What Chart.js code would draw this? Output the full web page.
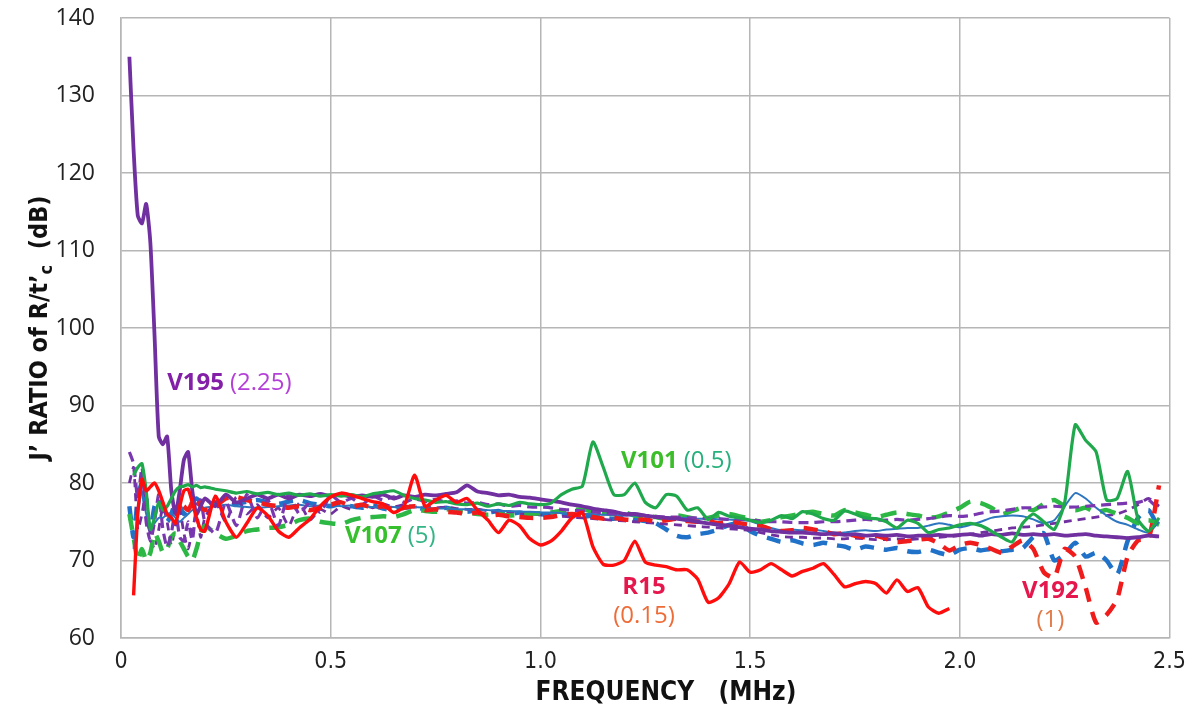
<!DOCTYPE html>
<html>
<head>
<meta charset="utf-8">
<script src="https://cdn.jsdelivr.net/npm/chart.js@4.4.0/dist/chart.umd.min.js"></script>
<style>
html, body { margin: 0; padding: 0; background: #fff; }
#wrap { width: 1196px; height: 713px; }
</style>
</head>
<body>
<div id="wrap"><canvas id="ratioChart" width="1196" height="713"></canvas></div>
<script>
// frequency (MHz): finer steps below 0.2, then every 0.025
const freq = [
    0.02, 0.03, 0.04, 0.05, 0.06, 0.07, 0.08, 0.09, 0.10, 0.11, 0.12, 0.13, 0.14, 0.15, 0.16, 0.17, 0.18, 0.19, 0.20,
    0.225, 0.25, 0.275, 0.3, 0.325, 0.35, 0.375, 0.4, 0.425, 0.45,
    0.475, 0.5, 0.525, 0.55, 0.575, 0.6, 0.625, 0.65, 0.675, 0.7,
    0.725, 0.75, 0.775, 0.8, 0.825, 0.85, 0.875, 0.9, 0.925, 0.95,
    0.975, 1.0, 1.025, 1.05, 1.075, 1.1, 1.125, 1.15, 1.175, 1.2,
    1.225, 1.25, 1.275, 1.3, 1.325, 1.35, 1.375, 1.4, 1.425, 1.45,
    1.475, 1.5, 1.525, 1.55, 1.575, 1.6, 1.625, 1.65, 1.675, 1.7,
    1.725, 1.75, 1.775, 1.8, 1.825, 1.85, 1.875, 1.9, 1.925, 1.95,
    1.975, 2.0, 2.025, 2.05, 2.075, 2.1, 2.125, 2.15, 2.175, 2.2,
    2.225, 2.25, 2.275, 2.3, 2.325, 2.35, 2.375, 2.4, 2.425, 2.45,
    2.475
];

// J' ratio (dB) per sample
const v195 = [
    135, 123, 114.5, 113.5, 116, 111, 99, 86, 85, 86, 79, 76, 79, 83, 84, 79, 76, 77, 78,
    77, 78.5, 77.5, 78, 78.5, 78, 78.5, 78, 78.5, 78.3,
    78.6, 78.3, 78.5, 78.2, 78.4, 78.2, 78.5, 78.0, 78.4, 78.2,
    78.5, 78.4, 78.6, 78.8, 79.7, 78.9, 78.7, 78.4, 78.5, 78.2,
    78.1, 77.9, 77.7, 77.5, 77.2, 77.0, 76.7, 76.5, 76.3, 76.0,
    76.0, 75.8, 75.6, 75.5, 75.4, 75.2, 75.0, 74.8, 74.6, 74.5,
    74.3, 74.1, 74.0, 73.8, 73.7, 73.6, 73.6, 73.5, 73.4, 73.5,
    73.3, 73.4, 73.2, 73.3, 73.2, 73.3, 73.1, 73.2, 73.2, 73.3,
    73.2, 73.3, 73.4, 73.2, 73.4, 73.3, 73.5, 73.3, 73.4, 73.3,
    73.4, 73.2, 73.3, 73.4, 73.2, 73.1, 73.0, 72.9, 73.0, 73.2,
    73.1
];
const v195b = [
    84, 82.5, 78, 82, 75, 72.5, 75, 78.5, 74, 71.7, 73.5, 76.5, 73, 72.5, 75, 72.6, 77, 77.8, 75,
    73.5, 77.5, 74.5, 78.5, 75.5, 77.8, 74.5, 78.6, 76.0, 77.5,
    76.2, 78.4, 77.5, 78.0, 77.2, 78.3, 77.8, 78.2, 77.5, 78.0,
    77.6, 77.9, 77.5, 77.7, 77.4, 77.5, 77.2, 77.3, 77.0, 77.1,
    76.9, 76.9, 76.8, 76.6, 76.5, 76.4, 76.3, 76.1, 76.0, 75.9,
    75.9, 75.8, 75.7, 75.6, 75.6, 75.5, 75.5, 75.4, 75.4, 75.3,
    75.3, 75.2, 75.1, 75.0, 75.0, 74.9, 74.9, 74.9, 75.0, 75.0,
    75.1, 75.2, 75.3, 75.2, 75.2, 75.3, 75.2, 75.3, 75.4, 75.6,
    75.8, 75.7, 75.8, 76.1, 76.3, 76.4, 76.6, 76.8, 76.8, 76.9,
    77.0, 76.9, 76.9, 77.0, 77.1, 77.2, 77.3, 77.4, 77.5, 77.8,
    76.5
];
const v195c = [
    80, 82, 74, 76, 79, 73, 71.5, 74, 77, 75, 72, 74.5, 76.5, 73.5, 71.5, 74, 76, 73, 75.5,
    77.5, 75.0, 78.2, 76.0, 77.2, 75.5, 76.8, 74.5, 77.4, 75.2,
    76.6, 76.0, 77.0, 76.6, 77.2, 76.8, 77.3, 76.9, 77.2, 76.9,
    77.0, 76.8, 76.9, 76.7, 76.6, 76.6, 76.4, 76.3, 76.2, 76.1,
    76.0, 75.9, 75.8, 75.7, 75.6, 75.5, 75.4, 75.3, 75.2, 75.1,
    75.0, 74.9, 74.8, 74.7, 74.6, 74.5, 74.4, 74.3, 74.2, 74.1,
    74.0, 73.9, 73.6, 73.3, 73.1, 73.0, 73.0, 72.9, 72.9, 72.8,
    72.8, 72.9, 72.8, 72.7, 72.7, 72.8, 72.7, 72.8, 72.9, 73.0,
    73.1, 73.2, 73.4, 73.6, 73.8, 74.0, 74.2, 74.3, 74.4, 74.6,
    74.8, 75.0, 75.2, 75.4, 75.6, 75.8, 76.0, 76.5, 77.2, 78.0,
    77.0
];
const v101 = [
    null, 81, 82, 82.5, 79, 74, 75.5, 77.5, 76.5, 77, 78, 79, 79.5, 79.6, 79.8, 79.5, 79.7, 79.4, 79.5,
    79.2, 79.0, 78.7, 78.9, 78.6, 78.8, 78.5, 78.7, 78.4, 78.6,
    78.3, 78.5, 78.3, 78.5, 78.2, 78.6, 78.8, 79.0, 78.4, 78.0,
    77.8, 77.5, 77.6, 77.3, 77.2, 77.4, 77.0, 77.3, 77.1, 77.5,
    77.3, 77.2, 77.4, 78.5, 79.2, 79.6, 85.3, 82.0, 78.5, 78.5,
    80.0, 77.5, 76.8, 78.5, 78.3, 76.5, 76.8, 75.3, 76.2, 75.7,
    75.5, 75.2, 74.9, 75.2, 75.8, 75.4, 76.3, 76.0, 75.4, 75.2,
    76.4, 76.0, 75.5, 75.4, 75.0, 74.2, 75.2, 74.8, 73.6, 74.0,
    74.2, 74.6, 74.8, 74.5, 73.8, 73.0, 72.4, 74.8, 76.0, 75.0,
    74.0, 77.5, 87.5, 85.5, 84.0, 77.8, 78.0, 81.5, 75.3, 73.8,
    75.5
];
const v107 = [
    76, 73, 70, 71.5, 70, 71, 73.5, 72.5, 71, 71.5, 73, 73.5, 72.5, 71.5, 70.5, 70, 71.5, 73.5, 74.5,
    73.5, 72.8, 73.2, 73.8, 74.0, 74.2, 74.3, 74.6, 75.2, 75.4,
    75.0, 74.8, 74.7, 75.2, 75.5, 75.6, 75.7, 75.6, 76.0, 76.5,
    76.4, 76.3, 76.6, 76.4, 76.2, 76.0, 75.9, 76.0, 75.8, 75.9,
    76.0, 76.1, 76.2, 76.4, 76.5, 76.6, 76.3, 76.1, 76.0, 76.2,
    75.8, 75.7, 75.6, 75.4, 75.8, 75.6, 75.3, 75.5, 75.8, 76.0,
    75.7, 75.4, 75.0, 75.2, 75.6, 75.8, 76.1, 76.3, 76.0, 75.8,
    76.5, 76.2, 75.9, 75.6, 75.9, 76.2, 76.0, 75.8, 75.5, 75.7,
    76.2, 76.8, 77.6, 77.4, 76.8, 76.0, 76.4, 76.8, 76.5, 77.3,
    77.8, 77.0, 76.5, 76.8, 76.2, 76.5, 76.0, 75.5, 74.8, 75.2,
    74.6
];
const r15 = [
    null, 65.5, 76, 80.5, 79, 79.5, 80, 79, 77.5, 76, 75.5, 74.8, 77, 79, 79.2, 77.5, 75.5, 74, 73.8,
    78.3, 75.0, 73.0, 74.8, 76.8, 75.8, 73.8, 73.0, 74.2, 75.3,
    77.0, 78.2, 78.7, 78.4, 78.0, 77.6, 77.3, 76.2, 77.0, 81.0,
    77.0, 77.8, 78.4, 77.5, 78.0, 76.5, 75.2, 73.6, 75.2, 74.5,
    72.8, 72.0, 72.5, 73.8, 75.5, 76.2, 71.8, 69.5, 69.4, 70.0,
    72.5, 69.8, 69.4, 69.2, 68.8, 68.8, 67.6, 64.6, 65.2, 67.0,
    69.8, 68.5, 68.8, 69.6, 68.8, 68.0, 68.6, 69.0, 69.6, 68.2,
    66.6, 67.0, 67.3, 67.0, 65.8, 67.5, 66.0, 66.5, 64.0, 63.2,
    63.8, null, null, null, null, null, null, null, null, null,
    null, null, null, null, null, null, null, null, null, null,
    null
];
const v192 = [
    null, null, null, null, null, null, null, null, null, null, null, null, null, 77, 76.5, 77.5, 78, 77, 76.5,
    77.0, 78.0, 78.2, 77.8, 77.5, 77.2, 77.0, 76.8, 77.0, 76.5,
    76.8, 77.2, 77.5, 77.0, 77.2, 76.8, 77.0, 76.6, 76.8, 77.0,
    76.5, 76.6, 76.3, 76.2, 76.0, 76.2, 75.8, 75.9, 75.7, 75.6,
    75.5, 75.5, 75.6, 75.9, 76.0, 75.8, 75.6, 75.4, 75.5, 75.3,
    75.2, 75.3, 75.0, 75.2, 75.4, 75.1, 75.0, 75.1, 74.8, 75.0,
    74.8, 74.6, 74.5, 74.0, 73.8, 73.9, 74.2, 74.0, 73.8, 73.4,
    73.5, 73.2, 73.0, 73.2, 72.8, 72.4, 72.5, 72.7, 72.8, 72.2,
    71.3, 72.0, 72.3, 72.0, 71.5, 71.0, 71.8, 72.6, 71.5, 68.5,
    67.8, 71.5, 70.5, 66.5, 62.0, 63.0, 65.0, 70.5, 72.6, 72.8,
    79.7
];
const blueSolid = [
    null, 71.5, 76, 79, 76, 74.3, 74.8, 75.5, 75.5, 76, 76.1, 75.5, 75, 75.5, 76, 76.5, 76.4, 76.6, 76.8,
    77.0, 77.2, 77.0, 76.9, 76.8, 76.9, 77.0, 77.1, 77.2, 77.0,
    77.1, 77.2, 77.0, 77.1, 77.0, 76.9, 77.0, 76.9, 76.8, 76.9,
    76.8, 76.7, 76.7, 76.6, 76.6, 76.5, 76.5, 76.4, 76.4, 76.3,
    76.3, 76.2, 76.2, 76.1, 76.1, 76.0, 76.0, 75.9, 75.9, 75.8,
    75.8, 75.7, 75.6, 75.6, 75.5, 75.5, 75.4, 75.4, 75.3, 75.3,
    75.2, 75.1, 74.6, 74.2, 73.9, 74.0, 73.9, 74.0, 73.8, 73.6,
    73.6, 73.8, 73.9, 73.8, 74.0, 74.1, 74.2, 74.2, 74.5, 74.8,
    74.6, 74.3, 74.6, 75.0, 75.5, 75.7, 75.8, 75.7, 75.3, 74.8,
    75.2, 77.0, 78.7, 78.0, 76.8, 75.8, 75.0, 74.6, 74.0, 73.6,
    75.0
];
const blueDashed = [
    77, 73, 78, 80, 76, 74, 77, 78, 76.5, 75, 76, 77.5, 77, 76, 76.5, 77.5, 78, 77.5, 77,
    77.5, 77.8, 77.3, 77.6, 77.8, 77.5, 77.3, 77.6, 77.8, 77.4,
    77.2, 77.0, 77.3, 77.0, 76.8, 77.1, 76.7, 76.5, 76.8, 76.9,
    76.6, 76.5, 76.8, 76.5, 76.3, 76.5, 76.2, 76.4, 76.0, 76.2,
    75.9, 76.0, 75.8, 76.0, 75.8, 75.6, 75.8, 75.5, 75.4, 75.6,
    75.3, 75.1, 74.8, 74.0, 73.2, 73.0, 73.4, 73.6, 74.0, 74.6,
    74.8, 73.8, 73.2, 72.8, 72.4, 72.6, 72.2, 72.0, 72.3, 72.0,
    71.8, 71.4, 71.8, 71.6, 71.4, 71.6, 71.2, 71.1, 71.4, 71.0,
    70.7, 71.4, 71.6, 71.3, 71.5, 71.2, 71.4, 71.6, 73.0, 73.5,
    70.0, 70.8, 72.3, 70.5, 71.0, 70.0, 68.2, 72.5, 75.5, 76.5,
    74.0
];

const xTickLabels = ['0', '0.5', '1.0', '1.5', '2.0', '2.5'];

// curve annotations: sample name and thickness, placed in data units
const seriesLabels = [
    { name: 'V195', note: '(2.25)', f: 0.110, db: 92.9, stacked: false, nameColor: '#8420A8', noteColor: '#B540D8' },
    { name: 'V101', note: '(0.5)', f: 1.192, db: 82.8, stacked: false, nameColor: '#3CBE2A', noteColor: '#27B07C' },
    { name: 'V107', note: '(5)', f: 0.534, db: 73.2, stacked: false, nameColor: '#36C02C', noteColor: '#33B585' },
    { name: 'R15', note: '(0.15)', f: 1.247, db: 66.5, stacked: true, nameColor: '#E5184E', noteColor: '#EE6C38' },
    { name: 'V192', note: '(1)', f: 2.216, db: 66.1, stacked: true, nameColor: '#E5184E', noteColor: '#E27A48' }
];

function pts(vals) {
    return freq.map((f, i) => ({ x: f, y: vals[i] }));
}

const gridColor = '#B6B6B6';
const narrow = '"Liberation Sans Narrow", "DejaVu Sans Condensed", "Open Sans", sans-serif';

const textPlugin = {
    id: 'textPlugin',
    afterDraw(chart) {
        const ctx = chart.ctx;
        const xs = chart.scales.x, ys = chart.scales.y;
        ctx.save();
        ctx.textBaseline = 'middle';
        seriesLabels.forEach(l => {
            const px = xs.getPixelForValue(l.f);
            const py = ys.getPixelForValue(l.db);
            ctx.font = 'bold 24px "Open Sans"';
            ctx.fillStyle = l.nameColor;
            if (l.stacked) {
                ctx.textAlign = 'center';
                ctx.fillText(l.name, px, py);
                ctx.font = '24px "Open Sans"';
                ctx.fillStyle = l.noteColor;
                ctx.fillText(l.note, px, py + 29);
            } else {
                ctx.textAlign = 'left';
                ctx.fillText(l.name, px, py);
                const w = ctx.measureText(l.name).width + 6;
                ctx.font = '24px "Open Sans"';
                ctx.fillStyle = l.noteColor;
                ctx.fillText(l.note, px + w, py);
            }
        });

        // x axis title
        ctx.fillStyle = '#111';
        ctx.textAlign = 'center';
        ctx.font = 'bold 26px ' + narrow;
        ctx.fillText('FREQUENCY   (MHz)', 666, 693);

        // y axis title with subscript c
        const midY = (chart.chartArea.top + chart.chartArea.bottom) / 2;
        ctx.translate(40, midY);
        ctx.rotate(-Math.PI / 2);
        ctx.textAlign = 'left';
        const mainFont = 'bold 25px ' + narrow;
        const subFont = 'bold 18px ' + narrow;
        ctx.font = mainFont;
        const p1 = 'J\u2019 RATIO of R/t\u2019', p3 = '  (dB)';
        const w1 = ctx.measureText(p1).width, w3 = ctx.measureText(p3).width;
        ctx.font = subFont;
        const w2 = ctx.measureText('c').width;
        let x0 = -(w1 + w2 + w3) / 2;
        ctx.font = mainFont;
        ctx.fillText(p1, x0, 0);
        ctx.font = subFont;
        ctx.fillText('c', x0 + w1, 7);
        ctx.font = mainFont;
        ctx.fillText(p3, x0 + w1 + w2, 0);
        ctx.restore();
    }
};

const ctx = document.getElementById('ratioChart').getContext('2d');
new Chart(ctx, {
    type: 'line',
    data: {
        datasets: [{
            label: 'R15',
            data: pts(r15),
            borderColor: '#FF0D0D',
            borderWidth: 3.4
        }, {
            label: 'V101',
            data: pts(v101),
            borderColor: '#20A84C',
            borderWidth: 3.2
        }, {
            label: 'V195',
            data: pts(v195),
            borderColor: '#7030A0',
            borderWidth: 3.8
        }, {
            label: 'V192',
            data: pts(v192),
            borderColor: '#F01C1C',
            borderWidth: 4.5,
            borderDash: [14, 10]
        }, {
            label: 'V195 b',
            data: pts(v195b),
            borderColor: '#7A38B0',
            borderWidth: 3.2,
            borderDash: [10, 6]
        }, {
            label: 'blue',
            data: pts(blueSolid),
            borderColor: '#2E75C0',
            borderWidth: 2
        }, {
            label: 'V107',
            data: pts(v107),
            borderColor: '#2DB845',
            borderWidth: 4.5,
            borderDash: [16, 10]
        }, {
            label: 'V195 c',
            data: pts(v195c),
            borderColor: '#7030A0',
            borderWidth: 2.8,
            borderDash: [8, 6]
        }, {
            label: 'blue dashed',
            data: pts(blueDashed),
            borderColor: '#1F72C8',
            borderWidth: 4.5,
            borderDash: [14, 10]
        }]
    },
    options: {
        responsive: false,
        animation: false,
        layout: { padding: { left: 0, right: 26, top: 0, bottom: 0 } },
        elements: {
            point: { radius: 0 },
            line: { tension: 0.2, fill: false, borderCapStyle: 'butt', borderJoinStyle: 'round' }
        },
        plugins: {
            legend: { display: false },
            tooltip: { enabled: false }
        },
        scales: {
            x: {
                type: 'linear',
                min: 0,
                max: 2.5,
                afterFit: s => { s.height = 75; },
                ticks: {
                    stepSize: 0.5,
                    padding: 10,
                    color: '#222',
                    font: { family: narrow, size: 23 },
                    callback: (v, i) => xTickLabels[i]
                },
                grid: { color: gridColor, lineWidth: 1.5, drawTicks: false },
                border: { color: gridColor, width: 1.5 }
            },
            y: {
                min: 60,
                max: 140,
                afterFit: s => {
                    s.width = 121;
                    s.paddingTop = 18;
                    s.paddingBottom = 0;
                },
                ticks: {
                    stepSize: 10,
                    padding: 26,
                    color: '#222',
                    font: { family: '"Open Sans"', size: 23 }
                },
                grid: { color: gridColor, lineWidth: 1.5, drawTicks: false },
                border: { color: gridColor, width: 1.5 }
            }
        }
    },
    plugins: [textPlugin]
});
</script>
</body>
</html>
